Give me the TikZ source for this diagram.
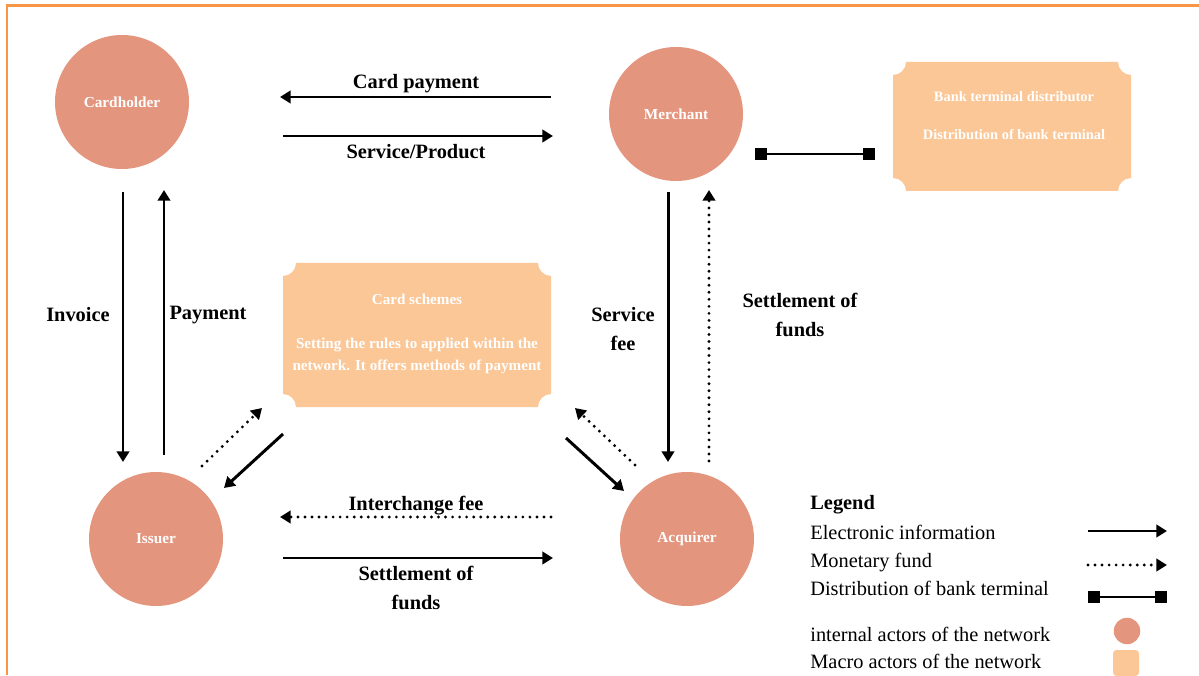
\documentclass[tikz,border=0pt]{standalone}
\usepackage{fontspec}
\setmainfont{Liberation Serif}
\usetikzlibrary{arrows.meta, positioning, calc}
\definecolor{actorfill}{HTML}{E4957E}
\definecolor{macrofill}{HTML}{FBC797}
\definecolor{framecol}{HTML}{F79646}

\tikzset{
	actor/.style={circle, fill=actorfill, minimum size=2.68cm, inner sep=0pt, text=white, font=\fontsize{8.7}{10}\selectfont\bfseries},
	macrotext/.style={text=white, align=center, inner sep=0pt, font=\fontsize{8.6}{12.5}\selectfont\bfseries},
	lbl/.style={align=center, inner sep=0pt, font=\fontsize{11.6}{16}\selectfont\bfseries},
	legtext/.style={anchor=base west, inner sep=0pt, font=\fontsize{11.6}{14}\selectfont},
	info/.style={line width=1.7pt, -{Triangle[length=6pt,width=7pt]}},
	fund/.style={line width=1.8pt, dash pattern=on 0pt off 4pt, line cap=round, -{Triangle[length=6pt,width=7pt]}},
	terminal/.style={line width=1.6pt, {Square[length=6.8pt,width=6.8pt]}-{Square[length=6.8pt,width=6.8pt]}},
}

% box with cut-in corners: x0, y0, x1, y1
\newcommand{\ticketfill}[4]{%
	\fill[macrofill] (#1,#4-0.26) arc[start angle=270,end angle=360,radius=0.26cm]
		-- (#3-0.26,#4) arc[start angle=180,end angle=270,radius=0.26cm]
		-- (#3,#2+0.26) arc[start angle=90,end angle=180,radius=0.26cm]
		-- (#1+0.26,#2) arc[start angle=0,end angle=90,radius=0.26cm] -- cycle;}

\begin{document}
\begin{tikzpicture}
		\useasboundingbox (0,0) rectangle (23.98,13.5);
		\draw[framecol, line width=1.3pt] (0.14,0) -- (0.14,13.39) -- (23.98,13.39);
		
		\ticketfill{5.66}{5.36}{11.02}{8.24}
		\ticketfill{17.86}{9.68}{22.62}{12.26}
		
		\draw (2.44cm,11.46cm) node[actor] (ch) {Cardholder}
		(13.52cm,11.22cm) node[actor] (mc) {Merchant}
		(3.12cm,2.72cm) node[actor] (is) {Issuer}
		(13.74cm,2.72cm) node[actor] (aq) {Acquirer}
		(8.34cm,6.82cm) node[macrotext] (cs) {Card schemes\\[12.5pt]Setting the rules to applied within the\\network. It offers methods of payment}
		(20.28cm,11.19cm) node[macrotext, font=\fontsize{8.2}{10}\selectfont\bfseries] (bt) {Bank terminal distributor\\[11.6pt]Distribution of bank terminal};
		
		\coordinate (cp1) at (11.02,11.56);
		\coordinate (cp2) at (5.60,11.56);
		\coordinate (sp1) at (5.66,10.78);
		\coordinate (sp2) at (11.06,10.78);
		\coordinate (iv1) at (2.46,9.66);
		\coordinate (iv2) at (2.46,4.26);
		\coordinate (pm1) at (3.28,4.40);
		\coordinate (pm2) at (3.28,9.70);
		\coordinate (sf1) at (13.36,9.66);
		\coordinate (sf2) at (13.36,4.26);
		\coordinate (st1) at (14.18,4.28);
		\coordinate (st2) at (14.18,9.70);
		\coordinate (ic1) at (11.02,3.16);
		\coordinate (ic2) at (5.60,3.16);
		\coordinate (sb1) at (5.66,2.34);
		\coordinate (sb2) at (11.06,2.34);
		\coordinate (ic3) at (4.04,4.18);
		\coordinate (ic4) at (5.24,5.34);
		\coordinate (ru1) at (5.66,4.82);
		\coordinate (ru2) at (4.48,3.74);
		\coordinate (aq1) at (12.70,4.20);
		\coordinate (aq2) at (11.50,5.34);
		\coordinate (ru3) at (11.32,4.74);
		\coordinate (ru4) at (12.48,3.68);
		\coordinate (bt1) at (15.10,10.42);
		\coordinate (bt2) at (17.50,10.42);
		
		\draw[info] (cp1) -- (cp2);
		\draw[info] (sp1) -- (sp2);
		\draw[info] (iv1) -- (iv2);
		\draw[info] (pm1) -- (pm2);
		\draw[info] (sf1) -- (sf2);
		\draw[fund] (st1) -- (st2);
		\draw[fund] (ic1) -- (ic2);
		\draw[info] (sb1) -- (sb2);
		\draw[fund] (ic3) -- (ic4);
		\draw[info] (ru1) -- (ru2);
		\draw[fund] (aq1) -- (aq2);
		\draw[info] (ru3) -- (ru4);
		\draw[terminal] (bt1) -- (bt2);
		
		\node[lbl] (lcp) at (8.32,11.82) {Card payment};
		\node[lbl] (lsp) at (8.32,10.46) {Service/Product};
		\node[lbl] (liv) at (1.56,7.20) {Invoice};
		\node[lbl] (lpm) at (4.16,7.20) {Payment};
		\node[lbl] (lsf) at (12.46,6.92) {Service\\fee};
		\node[lbl] (lst) at (16.00,7.20) {Settlement of\\funds};
		\node[lbl] (lic) at (8.32,3.38) {Interchange fee};
		\node[lbl] (lsb) at (8.32,1.74) {Settlement of\\funds};
		
		\node[legtext, font=\fontsize{11.6}{14}\selectfont\bfseries] (lg) at (16.20,3.32) {Legend};
		\node[legtext] (lg1) at (16.20,2.72) {Electronic information};
		\node[legtext] (lg2) at (16.20,2.16) {Monetary fund};
		\node[legtext] (lg3) at (16.20,1.60) {Distribution of bank terminal};
		\node[legtext] (lg4) at (16.20,0.68) {internal actors of the network};
		\node[legtext] (lg5) at (16.20,0.14) {Macro actors of the network};
		
		\coordinate (le1) at (21.76,2.88);
		\coordinate (le2) at (23.34,2.88);
		\coordinate (lm1) at (21.76,2.20);
		\coordinate (lm2) at (23.34,2.20);
		\coordinate (ld1) at (21.76,1.56);
		\coordinate (ld2) at (23.34,1.56);
		\draw[info] (le1) -- (le2);
		\draw[fund] (lm1) -- (lm2);
		\draw[terminal] (ld1) -- (ld2);
		\node[circle, fill=actorfill, minimum size=0.53cm, inner sep=0pt] (lc) at (22.54,0.88) {};
		\node[fill=macrofill, rounded corners=2pt, minimum size=0.52cm, inner sep=0pt] (lr) at (22.52,0.24) {};
	\end{tikzpicture}
\end{document}
